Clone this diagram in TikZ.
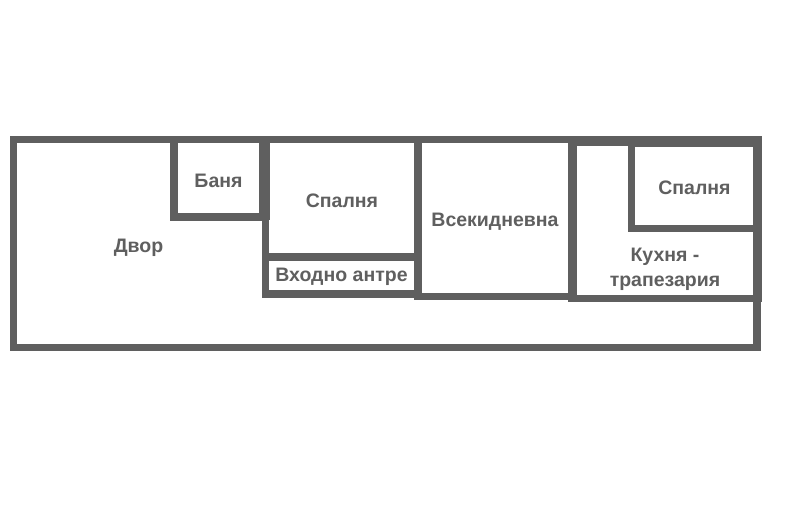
\documentclass[tikz,border=0pt]{standalone}
\usepackage{fontspec}
\setmainfont{Liberation Sans}
\definecolor{wallgray}{HTML}{5F5F5F}
\tikzset{
  x=1bp,y=-1bp,
  wall/.style={fill=wallgray,draw=none},
  room/.style={text=wallgray,font=\fontsize{19.5bp}{25.5bp}\selectfont\bfseries,align=center,inner sep=0pt}
}
\begin{document}
\begin{tikzpicture}
\useasboundingbox (0,0) rectangle (800,510);
\fill[white] (0,0) rectangle (800,510);
% outer walls
\fill[wall] (10,136) rectangle (761,143.5);
\fill[wall] (10,136) rectangle (17,350.5);
\fill[wall] (10,343.5) rectangle (760.5,350.5);
\fill[wall] (753.3,136) rectangle (760.5,350.5);
\fill[wall] (753.3,136) rectangle (762,302.3);
% bathroom
\fill[wall] (170,136) rectangle (177.7,220.7);
\fill[wall] (170,213) rectangle (262,220.7);
\fill[wall] (259,136) rectangle (269.5,220);
% bedroom, hall
\fill[wall] (261.5,215) rectangle (269,298);
\fill[wall] (262,253.3) rectangle (422,261);
\fill[wall] (262,290.3) rectangle (414,298);
\fill[wall] (413.7,136) rectangle (421.7,299.7);
% living room
\fill[wall] (414,292.7) rectangle (570,299.7);
% kitchen
\fill[wall] (568.3,136) rectangle (577.3,302.3);
\fill[wall] (568.3,295) rectangle (762,302.3);
\fill[wall] (577,136) rectangle (628.5,146);
% bedroom 2
\fill[wall] (628.3,136) rectangle (762,146.7);
\fill[wall] (628.3,136) rectangle (635.3,232.3);
\fill[wall] (628.3,225) rectangle (755,232.3);
% labels
\node[room] (dvor) at (138.5,247.5) {Двор};
\node[room] (banya) at (218.5,181) {Баня};
\node[room] (sp1) at (342,201) {Спалня};
\node[room] (hall) at (341.5,277) {Входно антре};
\node[room] (living) at (495,221.5) {Всекидневна};
\node[room] (sp2) at (694.5,188) {Спалня};
\node[room] (kitchen) at (665,269.5) {Кухня -\\трапезария};
\end{tikzpicture}
\end{document}
